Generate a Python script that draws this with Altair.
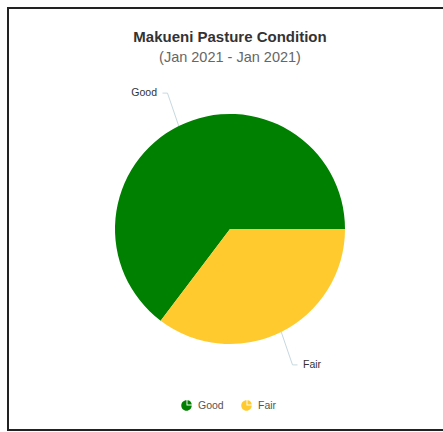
import math
import altair as alt
import pandas as pd

# ---- data ----
conditions = ["Good", "Fair"]
shares = [64.7, 35.3]
stack_order = [1, 0]          # Fair is drawn first, starting at 3 o'clock
colors = ["#008000", "#ffca2e"]

TITLE = "Makueni Pasture Condition"
SUBTITLE = "(Jan 2021 - Jan 2021)"

df = pd.DataFrame({"Condition": conditions, "Share": shares, "ord": stack_order})

# ---- layout / style ----
FONT = "Liberation Sans, Arial, Helvetica, sans-serif"
CONN = "#c5d9e0"
W, H = 440, 422
R = 115                      # pie radius (px)
CX, CY = 222, 221            # pie centre inside the view (px)
x_dom = [-CX / R, (W - CX) / R]
y_dom = [-(H - CY) / R, CY / R]
START = math.pi / 2

xs = alt.Scale(domain=x_dom, nice=False, zero=False)
ys = alt.Scale(domain=y_dom, nice=False, zero=False)

PIE_ICON = ("M0,0L0,-1A1,1,0,1,0,1,0Z "
            "M0.18,-0.18L0.18,-1A0.82,0.82,0,0,1,1,-0.18Z")

pie = alt.Chart(df).mark_arc(outerRadius=R).encode(
    theta=alt.Theta("Share:Q", stack=True,
                    scale=alt.Scale(range=[START, START + 2 * math.pi])),
    color=alt.Color(
        "Condition:N",
        scale=alt.Scale(domain=conditions, range=colors),
        legend=alt.Legend(
            title=None, orient="none", legendX=173, legendY=392,
            direction="horizontal", symbolType=PIE_ICON, symbolSize=110,
            symbolStrokeWidth=0, labelFontSize=10.5, labelColor="#555",
            labelFont=FONT, labelOffset=6, columnPadding=17, padding=0,
        ),
    ),
    order=alt.Order("ord:Q"),
    x=alt.XDatum(0, type="quantitative", scale=xs, axis=None),
    y=alt.YDatum(0, type="quantitative", scale=ys, axis=None),
)

base = alt.Chart(df).transform_joinaggregate(
    total="sum(Share)"
).transform_window(
    cum="sum(Share)", sort=[alt.SortField("ord")], frame=[None, 0]
).transform_calculate(
    mid=f"{START} + 2*PI*(datum.cum - datum.Share/2)/datum.total",
).transform_calculate(
    ex="sin(datum.mid)", ey="cos(datum.mid)",
).transform_calculate(
    bx="1.22*datum.ex", by="1.32*datum.ey",
    side="datum.ex < 0 ? -1 : 1",
).transform_calculate(
    hx=f"datum.bx + datum.side*{5 / R}",
    lx=f"datum.bx + datum.side*{10.5 / R}",
)

seg1 = base.mark_rule(color=CONN, strokeWidth=1).encode(
    x=alt.X("ex:Q", scale=xs, axis=None),
    y=alt.Y("ey:Q", scale=ys, axis=None),
    x2="bx:Q", y2="by:Q",
)
seg2 = base.mark_rule(color=CONN, strokeWidth=1).encode(
    x=alt.X("bx:Q", scale=xs, axis=None),
    y=alt.Y("by:Q", scale=ys, axis=None),
    x2="hx:Q", y2="by:Q",
)
lab_left = base.transform_filter("datum.side < 0").mark_text(
    align="right", baseline="middle", fontSize=10.5, color="#333", font=FONT
).encode(
    x=alt.X("lx:Q", scale=xs, axis=None),
    y=alt.Y("by:Q", scale=ys, axis=None),
    text="Condition:N",
)
lab_right = base.transform_filter("datum.side > 0").mark_text(
    align="left", baseline="middle", fontSize=10.5, color="#333", font=FONT
).encode(
    x=alt.X("lx:Q", scale=xs, axis=None),
    y=alt.Y("by:Q", scale=ys, axis=None),
    text="Condition:N",
)

chart = alt.layer(pie, seg1, seg2, lab_left, lab_right).properties(
    width=W, height=H,
    title=alt.TitleParams(
        text=TITLE, subtitle=SUBTITLE, anchor="middle",
        font=FONT, fontSize=15, fontWeight="bold", color="#333",
        subtitleFont=FONT, subtitleFontSize=14.5, subtitleColor="#666",
        subtitlePadding=6, offset=-56, dx=2,
    ),
    padding={"left": 8, "top": 8, "right": -5, "bottom": 2},
    autosize=alt.AutoSizeParams(type="none"),
).configure_view(stroke="#222", strokeWidth=2)

chart.save("out.html", embed_options={"renderer": "svg", "actions": False})
